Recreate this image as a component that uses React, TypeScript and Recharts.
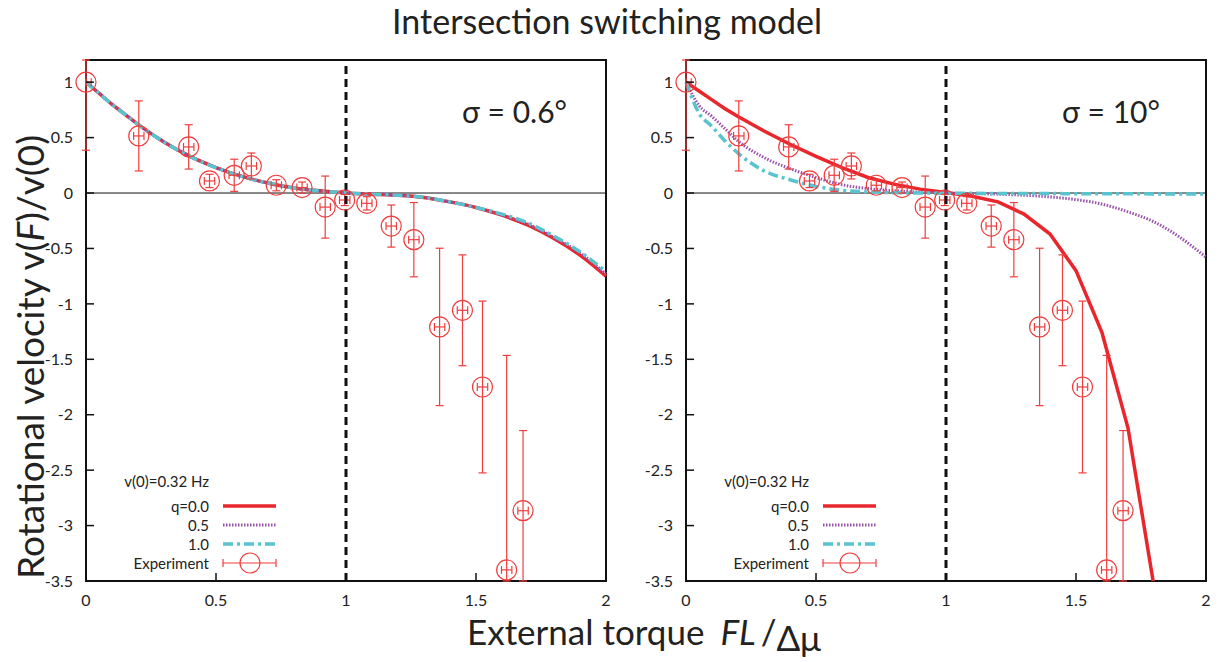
import React from 'react';
import { ComposedChart, Line, Scatter, ErrorBar, XAxis, YAxis, ReferenceLine, ReferenceArea } from 'recharts';

// model curves, sampled on a common torque grid
const xGrid = [0, 0.05, 0.1, 0.15, 0.2, 0.3, 0.4, 0.5, 0.6, 0.7, 0.8, 0.9, 1.0, 1.1, 1.2, 1.3, 1.4, 1.5, 1.6, 1.7, 1.8, 1.9, 2.0];

const narrowQ0 = [1, 0.9, 0.8, 0.71, 0.62, 0.46, 0.33, 0.23, 0.15, 0.09, 0.045, 0.02, 0, -0.01, -0.02, -0.04, -0.08, -0.13, -0.2, -0.29, -0.41, -0.56, -0.75];
const narrowQ05 = [1, 0.9, 0.8, 0.71, 0.62, 0.46, 0.33, 0.23, 0.15, 0.09, 0.045, 0.02, 0, -0.01, -0.02, -0.04, -0.08, -0.13, -0.2, -0.28, -0.4, -0.54, -0.73];
const narrowQ1 = [1, 0.9, 0.8, 0.71, 0.62, 0.46, 0.33, 0.23, 0.15, 0.09, 0.045, 0.02, 0, -0.01, -0.02, -0.04, -0.08, -0.13, -0.19, -0.27, -0.39, -0.53, -0.71];

const wideQ0 = [1, 0.92, 0.84, 0.76, 0.69, 0.56, 0.44, 0.33, 0.23, 0.14, 0.08, 0.035, 0.005, -0.03, -0.08, -0.19, -0.37, -0.7, -1.26, -2.12, -3.55, null, null];
const wideQ05 = [1, 0.79, 0.69, 0.58, 0.47, 0.32, 0.22, 0.14, 0.075, 0.04, 0.02, 0.008, 0, -0.005, -0.01, -0.02, -0.035, -0.06, -0.1, -0.17, -0.26, -0.4, -0.58];
const wideQ1 = [1, 0.72, 0.6, 0.47, 0.36, 0.2, 0.12, 0.06, 0.025, 0.01, 0.003, 0, -0.002, -0.003, -0.004, -0.005, -0.005, -0.006, -0.006, -0.007, -0.008, -0.009, -0.01];

// experiment
const expX = [0, 0.203, 0.395, 0.475, 0.57, 0.636, 0.732, 0.831, 0.92, 0.995, 1.08, 1.174, 1.261, 1.36, 1.448, 1.525, 1.618, 1.681];
const expY = [1, 0.515, 0.416, 0.109, 0.16, 0.244, 0.07, 0.049, -0.127, -0.063, -0.093, -0.298, -0.421, -1.208, -1.058, -1.75, -3.4, -2.866];
const expYErr = [0.614, 0.316, 0.2, 0.06, 0.145, 0.117, 0.05, 0.05, 0.28, 0.05, 0.06, 0.19, 0.335, 0.71, 0.5, 0.775, 1.935, 0.723];
const expXErr = [0.02, 0.02, 0.02, 0.02, 0.02, 0.02, 0.02, 0.02, 0.02, 0.02, 0.02, 0.02, 0.02, 0.02, 0.02, 0.02, 0.02, 0.02];

const xTicks = [0, 0.5, 1, 1.5, 2];
const yTicks = [1, 0.5, 0, -0.5, -1, -1.5, -2, -2.5, -3, -3.5];
const Y_MIN = -3.5;
const Y_MAX = 1.2;

const RED = '#e8262b';
const MARK = '#ef3d3d';
const PURPLE = '#9a52ad';
const CYAN = '#58c4cf';
const FONT = 'Lato, "Open Sans", sans-serif';

// error bars are cut at the frame, like the original plot
const expData = expX.map((x, i) => ({
  x,
  y: expY[i],
  ey: [Math.min(expYErr[i], expY[i] - Y_MIN), Math.min(expYErr[i], Y_MAX - expY[i])],
  ex: [Math.min(expXErr[i], x), expXErr[i]],
}));

const buildCurves = (q0: (number | null)[], q05: (number | null)[], q1: (number | null)[]) =>
  xGrid.map((x, i) => ({ x, q0: q0[i], q05: q05[i], q1: q1[i] }));

const Marker = (props: any) => (
  <circle cx={props.cx} cy={props.cy} r={10} fill="none" stroke={MARK} strokeWidth={1.2} />
);

const Empty = () => <g />;

interface PanelProps {
  left: number;
  sigma: string;
  curves: { x: number; q0: number | null; q05: number | null; q1: number | null }[];
  redType: 'monotone' | 'linear';
}

const Panel: React.FC<PanelProps> = ({ left, sigma, curves, redType }) => (
  <div style={{ position: 'absolute', left, top: 0 }}>
    <ComposedChart width={618} height={662} margin={{ top: 60, right: 12, bottom: 51, left: 46 }}>
      <XAxis dataKey="x" type="number" domain={[0, 2]} ticks={xTicks} height={30}
        axisLine={false} tickSize={-8} tickMargin={22} tickLine={{ stroke: '#111', strokeWidth: 1.5 }}
        tick={{ fill: '#222', fontSize: 16, fontFamily: FONT }} />
      <XAxis xAxisId="top" dataKey="x" type="number" orientation="top" domain={[0, 2]} ticks={[0.5, 1, 1.5]}
        height={0} axisLine={false} tickSize={-8} tick={false} tickLine={{ stroke: '#111', strokeWidth: 1.5 }} />
      <YAxis type="number" domain={[Y_MIN, Y_MAX]} ticks={yTicks} allowDataOverflow width={40}
        axisLine={false} tickSize={-8} tickMargin={21} tickLine={{ stroke: '#111', strokeWidth: 1.5 }}
        tick={{ fill: '#222', fontSize: 16, fontFamily: FONT }} />
      <YAxis yAxisId="right" type="number" orientation="right" domain={[Y_MIN, Y_MAX]} ticks={yTicks} width={0}
        axisLine={false} tickSize={-8} tick={false} tickLine={{ stroke: '#111', strokeWidth: 1.5 }} />

      <ReferenceLine y={0} stroke="#111" strokeWidth={1} />

      <Line data={curves} dataKey="q0" type={redType} stroke={RED} strokeWidth={3.5} dot={false} isAnimationActive={false} />
      <Line data={curves} dataKey="q05" type="monotone" stroke={PURPLE} strokeWidth={3} strokeDasharray="1.5 1.5" dot={false} isAnimationActive={false} />
      <Line data={curves} dataKey="q1" type="monotone" stroke={CYAN} strokeWidth={3.5} strokeDasharray="10 4 3 4" dot={false} isAnimationActive={false} />

      <Scatter data={expData} dataKey="y" shape={Empty} isAnimationActive={false}>
        <ErrorBar dataKey="ey" direction="y" width={4} stroke={MARK} strokeWidth={1.2} isAnimationActive={false} />
        <ErrorBar dataKey="ex" direction="x" width={4} stroke={MARK} strokeWidth={1.2} isAnimationActive={false} />
      </Scatter>
      <Scatter data={expData} dataKey="y" xAxisId="top" yAxisId="right" shape={Marker} isAnimationActive={false} />

      <ReferenceLine x={1} stroke="#111" strokeWidth={3} strokeDasharray="8 5" />
      <ReferenceArea x1={0} x2={2} y1={Y_MIN} y2={Y_MAX} fill="none" stroke="#111" strokeWidth={2} fillOpacity={0} />
    </ComposedChart>
    <svg width={618} height={662} style={{ position: 'absolute', left: 0, top: 0, pointerEvents: 'none' }}
      fontFamily={FONT} fill="#222">
      <text x={462} y={123} fontSize={30}>{sigma}</text>
      <text x={209} y={487} fontSize={15} textAnchor="end">v(0)=0.32 Hz</text>
      <text x={209} y={512} fontSize={15} textAnchor="end">q=0.0</text>
      <line x1={223} x2={276} y1={506} y2={506} stroke={RED} strokeWidth={3.5} />
      <text x={209} y={531} fontSize={15} textAnchor="end">0.5</text>
      <line x1={223} x2={276} y1={525} y2={525} stroke={PURPLE} strokeWidth={3} strokeDasharray="1.5 1.5" />
      <text x={209} y={550} fontSize={15} textAnchor="end">1.0</text>
      <line x1={223} x2={276} y1={544} y2={544} stroke={CYAN} strokeWidth={3.5} strokeDasharray="10 4 3 4" />
      <text x={209} y={569} fontSize={15} textAnchor="end">Experiment</text>
      <g stroke={MARK} strokeWidth={1.2} fill="none">
        <line x1={223} x2={276} y1={563} y2={563} />
        <line x1={223} x2={223} y1={559} y2={567} />
        <line x1={276} x2={276} y1={559} y2={567} />
        <circle cx={250} cy={563} r={10} />
      </g>
    </svg>
  </div>
);

export default function App() {
  return (
    <div style={{ position: 'absolute', left: 0, top: 0, width: 1218, height: 662, background: '#fff', overflow: 'hidden' }}>
      <Panel left={0} sigma="σ = 0.6°" curves={buildCurves(narrowQ0, narrowQ05, narrowQ1)} redType="monotone" />
      <Panel left={600} sigma="σ = 10°" curves={buildCurves(wideQ0, wideQ05, wideQ1)} redType="linear" />
      <svg width={1218} height={662} style={{ position: 'absolute', left: 0, top: 0, pointerEvents: 'none' }}
        fontFamily={FONT} fill="#222">
        <text x={607} y={34} fontSize={34} textAnchor="middle">Intersection switching model</text>
        <text transform="translate(44,357) rotate(-90)" fontSize={37} textAnchor="middle">
          Rotational velocity v(<tspan fontStyle="italic">F</tspan>)/v(0)
        </text>
        <text x={467} y={645} fontSize={35}>
          External torque
          <tspan dx={16} fontStyle="italic">FL</tspan>
          <tspan dx={5}>/</tspan>
          <tspan dy={6}>Δμ</tspan>
        </text>
      </svg>
    </div>
  );
}
